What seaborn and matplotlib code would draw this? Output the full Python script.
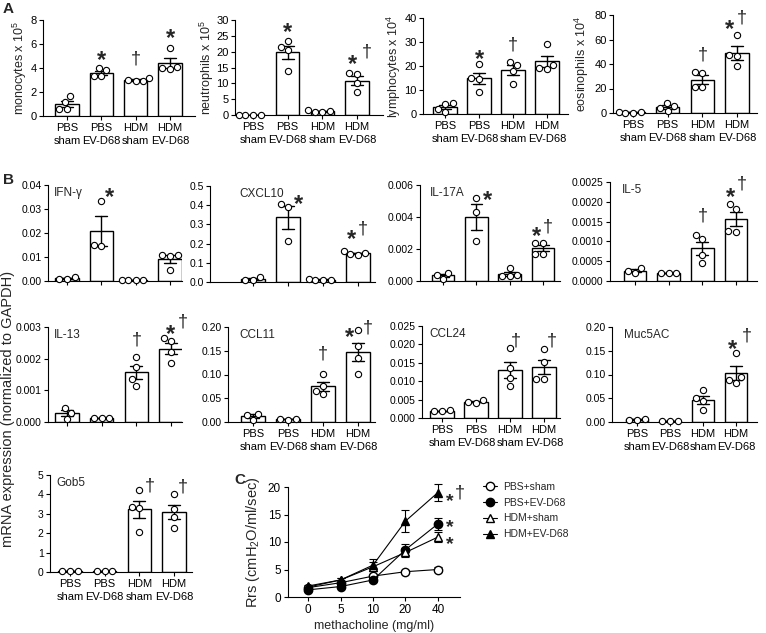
import matplotlib
matplotlib.use("Agg")
import matplotlib.pyplot as plt
import matplotlib.transforms as mtransforms
from matplotlib.ticker import FormatStrFormatter
import numpy as np
import pandas as pd
import seaborn as sns

W, H = 766, 633

GROUPS = ["PBS\nsham", "PBS\nEV-D68", "HDM\nsham", "HDM\nEV-D68"]

# panel A: BAL cell counts, one list of animals per group
monocytes = [[1.7, 1.2, 0.6, 0.6], [4.0, 3.8, 3.3, 3.3], [3.2, 3.0, 2.9, 2.9], [5.7, 4.1, 4.0, 3.9]]
neutrophils = [[0.1, 0.1, 0.1, 0.1], [23.5, 21.5, 20.5, 13.8], [1.5, 1.3, 1.0, 1.0], [13.3, 13.0, 10.0, 7.2]]
lymphocytes = [[4.5, 4.2, 2.0, 0.9], [20.8, 15.0, 14.7, 9.0], [21.8, 20.5, 18.0, 12.3], [29.0, 20.5, 19.3, 18.7]]
eosinophils = [[0.8, 0.5, 0.3, 0.4], [8.5, 5.5, 4.0, 2.0], [33.5, 33.0, 21.5, 21.0], [63.7, 47.5, 46.5, 38.0]]

# panel B: mRNA expression normalized to GAPDH
ifng = [[0.0015, 0.001, 0.001], [0.0335, 0.0145, 0.015], [0.0006, 0.0005, 0.0004, 0.0005], [0.0108, 0.0108, 0.0103, 0.0045]]
cxcl10 = [[0.025, 0.012, 0.012], [0.405, 0.39, 0.215], [0.015, 0.012, 0.010, 0.012], [0.16, 0.15, 0.14, 0.145]]
il17a = [[0.0005, 0.0004, 0.00015], [0.0052, 0.0043, 0.0025], [0.0008, 0.0004, 0.0003, 0.0003], [0.0024, 0.0024, 0.0017, 0.0017]]
il5 = [[0.00033, 0.00025, 0.0002], [0.00021, 0.0002, 0.00019], [0.00115, 0.00105, 0.00066, 0.00045], [0.00194, 0.00182, 0.00127, 0.00124]]
il13 = [[0.00045, 0.0003, 0.0001], [0.00013, 0.00013, 0.00012], [0.00205, 0.00175, 0.00135, 0.00115], [0.00266, 0.00256, 0.0022, 0.00186]]
ccl11 = [[0.017, 0.015, 0.005], [0.006, 0.005, 0.006], [0.102, 0.075, 0.066, 0.058], [0.193, 0.16, 0.134, 0.101]]
ccl24 = [[0.0021, 0.0019, 0.0018], [0.0048, 0.0043, 0.0042], [0.019, 0.0135, 0.011, 0.0088], [0.0188, 0.0153, 0.0105, 0.0107]]
muc5ac = [[0.006, 0.005, 0.005], [0.002, 0.002, 0.002], [0.068, 0.05, 0.044, 0.026], [0.146, 0.094, 0.088, 0.083]]
gob5 = [[0.07, 0.05, 0.04], [0.03, 0.03, 0.03], [4.22, 3.35, 3.3, 2.05], [4.02, 3.25, 2.85, 2.25]]

# panel C: airway resistance, mean and SEM
doses = ["0", "5", "10", "20", "40"]
series_names = ["PBS+sham", "PBS+EV-D68", "HDM+sham", "HDM+EV-D68"]
pbs_sham_mean = [1.7, 2.6, 3.8, 4.6, 5.0]
pbs_sham_sem = [0.15, 0.2, 0.3, 0.3, 0.4]
pbs_ev_mean = [1.3, 1.9, 3.1, 8.6, 13.3]
pbs_ev_sem = [0.15, 0.2, 0.3, 1.0, 1.1]
hdm_sham_mean = [2.0, 3.1, 5.5, 8.1, 10.9]
hdm_sham_sem = [0.2, 0.3, 0.8, 0.8, 0.9]
hdm_ev_mean = [1.8, 3.1, 5.8, 13.8, 19.0]
hdm_ev_sem = [0.2, 0.4, 1.1, 2.0, 1.5]

sns.set_theme(style="ticks")
plt.rcParams["font.family"] = ["Liberation Sans", "DejaVu Sans"]
plt.rcParams.update({
    "mathtext.fontset": "custom",
    "mathtext.rm": "Liberation Sans",
    "mathtext.it": "Liberation Sans:italic",
    "mathtext.bf": "Liberation Sans:bold",
    "axes.linewidth": 0.8,
    "axes.edgecolor": "black",
    "xtick.major.width": 0.8,
    "ytick.major.width": 0.8,
    "xtick.major.size": 3,
    "ytick.major.size": 3,
    "xtick.color": "black",
    "ytick.color": "black",
})

fig = plt.figure(figsize=(W / 100, H / 100), dpi=100)


def add_box(spine_x, end_x, top_y, zero_y):
    return fig.add_axes([spine_x / W, 1 - zero_y / H, (end_x - spine_x) / W, (zero_y - top_y) / H])


def put_symbol(ax, x, y, sym, dx, dy, star_fs=17):
    if sym == "*":
        fs, weight, c = star_fs, "bold", 0.575
    else:
        fs, weight, c = 13, "normal", 0.27
    em = fs * 100 / 72
    ax.annotate(sym, xy=(x, y), xytext=(dx, dy - c * em), textcoords="offset pixels",
                ha="center", va="baseline", fontsize=fs, fontweight=weight,
                annotation_clip=False)


def bar_panel(box, centers, values, ymax, step, fmt, show_labels, tick_fs,
              ylabel=None, ylabel_x=None, title=None, marks=()):
    spine_x, end_x, top_y, zero_y = box
    ax = add_box(*box)
    df = pd.DataFrame([(GROUPS[i], v) for i, grp in enumerate(values) for v in grp],
                      columns=["group", "value"])
    sns.barplot(data=df, x="group", y="value", order=GROUPS, errorbar="se",
                color="white", edgecolor="black", linewidth=1.0, width=0.68,
                capsize=0.35, err_kws={"color": "black", "linewidth": 1.0}, ax=ax)
    sns.swarmplot(data=df, x="group", y="value", order=GROUPS, color="white",
                  edgecolor="black", linewidth=0.8, size=4.5, ax=ax, zorder=3)
    for coll in ax.collections:
        coll.set_clip_on(False)

    c0, c3 = centers
    s = (c3 - c0) / 3
    ax.set_xlim(-(c0 - spine_x) / s, 3 + (end_x - c3) / s)
    ax.set_ylim(0, ymax)
    ax.set_yticks(np.arange(0, ymax + step / 2, step))
    ax.yaxis.set_major_formatter(FormatStrFormatter(fmt))
    ax.set_xlabel("")
    ax.set_ylabel("")
    sns.despine(ax=ax)
    ax.tick_params(axis="y", labelsize=tick_fs, pad=1.5)
    ax.tick_params(axis="x", labelsize=8, pad=2)
    if show_labels:
        for lbl in ax.get_xticklabels():
            lbl.set_linespacing(1.35)
    else:
        ax.tick_params(axis="x", labelbottom=False)

    if ylabel:
        # ylabel_x is the right (descender) edge of the rotated label, in pixels
        ax.set_ylabel(ylabel, fontsize=9)
        ax.yaxis.set_label_coords((ylabel_x - spine_x) / (end_x - spine_x), 0.5)
    if title:
        trans = mtransforms.blended_transform_factory(ax.transData, ax.transAxes)
        ax.text(-0.38, 0.98, title, transform=trans, fontsize=8.5, va="top", ha="left")

    for gi, sym, dx, dy in marks:
        pts = np.array(values[gi])
        sem = pts.std(ddof=1) / np.sqrt(len(pts))
        ytop = max(pts.max(), pts.mean() + sem)
        put_symbol(ax, gi, ytop, sym, dx, dy)
    return ax


# ---- panel A ----
bar_panel((43, 195, 20, 116), (67, 170), monocytes, 8, 2, "%d", True, 8,
          "monocytes x 10$^5$", 29,
          marks=[(1, "*", 0, 15), (2, "†", 0, 19), (3, "*", 0, 16)])
bar_panel((235, 383, 20, 115), (253, 357), neutrophils, 30, 5, "%d", True, 8,
          "neutrophils x 10$^5$", 216,
          marks=[(1, "*", 0, 15), (3, "*", -4, 15), (3, "†", 10, 21)])
bar_panel((423, 568, 18, 114), (445, 547), lymphocytes, 40, 10, "%d", True, 8,
          "lymphocytes x 10$^4$", 403,
          marks=[(1, "*", 0, 12), (2, "†", 0, 17)])
bar_panel((613, 757, 15, 113), (633, 737), eosinophils, 80, 20, "%d", True, 8,
          "eosinophils x 10$^4$", 591,
          marks=[(2, "†", 0, 17), (3, "*", -7, 13), (3, "†", 5, 17)])

# ---- panel B ----
bar_panel((48, 182, 185, 281), (67, 170), ifng, 0.04, 0.01, "%.2f", False, 7.5,
          title="IFN-γ", marks=[(1, "*", 8, 10)])
bar_panel((210, 375, 186, 282), (253, 358), cxcl10, 0.5, 0.1, "%.1f", False, 7.5,
          title="CXCL10", marks=[(1, "*", 11, 7), (3, "*", -6, 19), (3, "†", 5, 23)])
bar_panel((420, 560, 185, 281), (443, 543), il17a, 0.006, 0.002, "%.3f", False, 7.5,
          title="IL-17A", marks=[(1, "*", 11, 4), (3, "*", -6, 13), (3, "†", 5, 16)])
bar_panel((610, 757, 182, 281), (635, 736), il5, 0.0025, 0.0005, "%.4f", False, 7.5,
          title="IL-5", marks=[(2, "†", 0, 20), (3, "*", -5, 14), (3, "†", 6, 21)])

bar_panel((48, 182, 327, 422), (67, 171), il13, 0.003, 0.001, "%.3f", False, 7.5,
          title="IL-13", marks=[(2, "†", 0, 17), (3, "*", -1, 10), (3, "†", 12, 16)])
bar_panel((228, 375, 327, 422), (253, 358), ccl11, 0.20, 0.05, "%.2f", True, 7.5,
          title="CCL11", marks=[(2, "†", 0, 20), (3, "*", -8, 0), (3, "†", 10, 3)])
bar_panel((422, 560, 326, 418), (442, 544), ccl24, 0.025, 0.005, "%.3f", True, 7.5,
          title="CCL24", marks=[(2, "†", 6, 7), (3, "†", 8, 8)])
bar_panel((612, 757, 327, 422), (637, 736), muc5ac, 0.20, 0.05, "%.2f", True, 7.5,
          title="Muc5AC", marks=[(3, "*", -4, 10), (3, "†", 11, 17)])

bar_panel((50, 192, 475, 572), (70, 174), gob5, 5, 1, "%d", True, 7.5,
          title="Gob5", marks=[(2, "†", 10, 5), (3, "†", 9, 7)])

# ---- panel C ----
axc = add_box(288, 460, 487, 597)
xpos = np.arange(len(doses))
means = [pbs_sham_mean, pbs_ev_mean, hdm_sham_mean, hdm_ev_mean]
sems = [pbs_sham_sem, pbs_ev_sem, hdm_sham_sem, hdm_ev_sem]
markers = ["o", "o", "^", "^"]
faces = ["white", "black", "white", "black"]
handles = []
for name, m, e, mk, fc in zip(series_names, means, sems, markers, faces):
    cont = axc.errorbar(xpos, m, yerr=e, color="black", marker=mk, mfc=fc, mec="black",
                        ms=6, lw=0.8, elinewidth=0.8, capsize=3, capthick=0.8,
                        label=name, clip_on=False)
    handles.append(cont.lines[0])
axc.set_xticks(xpos, doses)
axc.set_xlim(-0.62, 4.68)
axc.set_ylim(0, 20)
axc.set_yticks([0, 5, 10, 15, 20])
sns.despine(ax=axc)
axc.tick_params(labelsize=8.5, pad=2)
axc.set_xlabel("methacholine (mg/ml)", fontsize=9, labelpad=3)
axc.set_ylabel("Rrs (cmH$_2$O/ml/sec)", fontsize=10.5, labelpad=4)
put_symbol(axc, 4, hdm_ev_mean[4], "*", 12, -2, star_fs=14)
put_symbol(axc, 4, hdm_ev_mean[4], "†", 22, 0)
put_symbol(axc, 4, pbs_ev_mean[4], "*", 12, 3, star_fs=14)
put_symbol(axc, 4, hdm_sham_mean[4], "*", 12, -1, star_fs=14)

fig.legend(handles=handles, labels=series_names, loc="upper left",
           bbox_to_anchor=(483 / W, 1 - 482 / H), frameon=False, fontsize=7.5,
           handlelength=1.3, handletextpad=0.6, labelspacing=0.55,
           borderaxespad=0, borderpad=0)

# panel letters and shared label
fig.text(3 / W, 1 - 2 / H, "A", fontsize=11, fontweight="bold", va="top")
fig.text(3 / W, 1 - 173 / H, "B", fontsize=11, fontweight="bold", va="top")
fig.text(234 / W, 1 - 473 / H, "C", fontsize=11, fontweight="bold", va="top")
fig.text(8 / W, 1 - 409 / H, "mRNA expression (normalized to GAPDH)", rotation=90,
         va="center", ha="center", fontsize=10.5)

fig.savefig("out.png", dpi=100)
